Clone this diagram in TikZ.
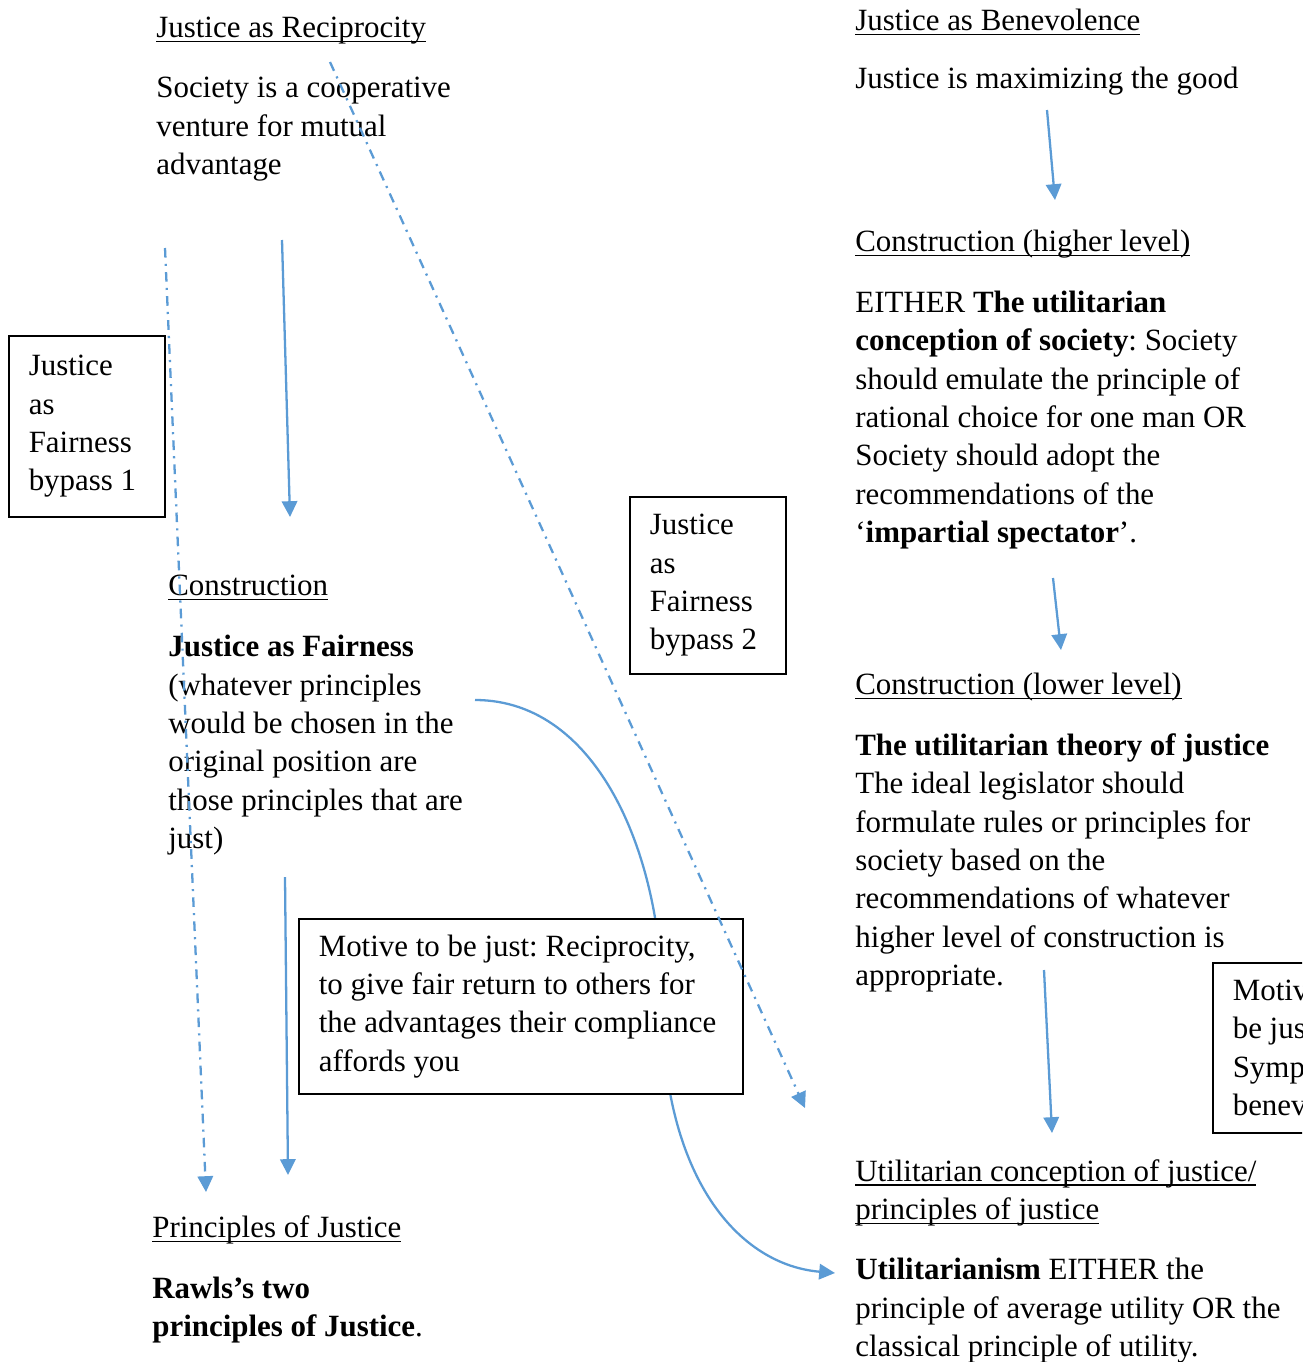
\documentclass[tikz,border=0pt]{standalone}
\usepackage{fontspec}
\setmainfont{Liberation Serif}
\usetikzlibrary{arrows.meta}

\definecolor{arrowblue}{RGB}{91,155,213}
\frenchspacing

% underline at a fixed depth
\newlength\ulwidth
\newcommand{\ulined}[1]{\settowidth{\ulwidth}{#1}\rlap{\rule[-2.6pt]{\ulwidth}{0.7pt}}#1}

\tikzset{
  flow/.style={draw=arrowblue, line width=1.3pt, -{Triangle[length=9pt,width=8.8pt]}},
  bypass/.style={flow, dash pattern=on 5.5pt off 3.5pt on 1.2pt off 3.5pt},
  para/.style={anchor=base west, align=left, inner sep=0pt, yshift=-0.8pt},
  sidebox/.style={draw, line width=0.9pt, fill=white, anchor=north west, align=flush left, inner xsep=0.4cm, inner ysep=0pt},
}

\begin{document}
\begin{tikzpicture}[x=0.02cm, y=-0.02cm, font=\fontsize{17.6}{21.8}\selectfont]
	\useasboundingbox (0,0) rectangle (1302,1362);
	\clip (0,0) rectangle (1302,1362);

	% curved arrow, runs behind the motive box
	\coordinate (curvestart) at (475,700);
	\coordinate (curvemid) at (662,1000);
	\coordinate (curveend) at (835,1273);
	\draw[flow] (curvestart) .. controls (600,700) and (662,860) .. (curvemid)
		.. controls (662,1180) and (740,1265) .. (curveend);

	% left column (multi-line texts sit on their last baseline)
	\node[para] (recip) at (156,36) {\ulined{Justice as Reciprocity}};
	\node[para] (venture) at (156,173) {Society is a cooperative\\venture for mutual\\advantage};
	\node[sidebox, text width=2.32cm, minimum height=3.62cm] (bypassone) at (8,335) {Justice\\as\\Fairness\\bypass 1};
	\node[para] (constr) at (168,594) {\ulined{Construction}};
	\node[para] (fairness) at (168,847) {\textbf{Justice as Fairness}\\(whatever principles\\would be chosen in the\\original position are\\those principles that are\\just)};
	\node[sidebox, text width=8.08cm, minimum height=3.5cm] (motive) at (298,918) {Motive to be just: Reciprocity,\\to give fair return to others for\\the advantages their compliance\\affords you};
	\node[para] (principles) at (152,1236) {\ulined{Principles of Justice}};
	\node[para] (rawls) at (152,1335) {\textbf{Rawls’s two}\\\textbf{principles of Justice}.};

	% middle
	\node[sidebox, text width=2.32cm, minimum height=3.54cm] (bypasstwo) at (629,496) {Justice\\as\\Fairness\\bypass 2};

	% right column
	\node[para] (benev) at (855,29) {\ulined{Justice as Benevolence}};
	\node[para] (maxgood) at (855,87) {Justice is maximizing the good};
	\node[para] (higher) at (855,250) {\ulined{Construction (higher level)}};
	\node[para] (conception) at (855,541) {EITHER \textbf{The utilitarian}\\\textbf{conception of society}: Society\\should emulate the principle of\\rational choice for one man OR\\Society should adopt the\\recommendations of the\\‘\textbf{impartial spectator}’.};
	\node[para] (lower) at (855,693) {\ulined{Construction (lower level)}};
	\node[para] (theory) at (855,984) {\textbf{The utilitarian theory of justice}\\The ideal legislator should\\formulate rules or principles for\\society based on the\\recommendations of whatever\\higher level of construction is\\appropriate.};
	\node[sidebox, text width=3cm, minimum height=3.4cm] (sympathy) at (1212,962) {Motive to\\be just:\\Sympathy,\\benevolence};
	\node[para] (utilconc) at (855,1218) {\ulined{Utilitarian conception of justice/}\\\ulined{principles of justice}};
	\node[para] (utilism) at (855,1355) {\textbf{Utilitarianism} EITHER the\\principle of average utility OR the\\classical principle of utility.};

	% arrow ends
	\coordinate (ventureout) at (282,240);
	\coordinate (constrin) at (290,517);
	\coordinate (fairnessout) at (285,877);
	\coordinate (principlesin) at (288,1175);
	\coordinate (skipleftout) at (165,248);
	\coordinate (skipleftin) at (206,1192);
	\coordinate (skiprightout) at (330,62);
	\coordinate (skiprightin) at (805,1108);
	\coordinate (maxgoodout) at (1047,110);
	\coordinate (higherin) at (1055,200);
	\coordinate (conceptionout) at (1053,578);
	\coordinate (lowerin) at (1061,650);
	\coordinate (theoryout) at (1044,970);
	\coordinate (utilconcin) at (1052,1133);

	\draw[flow] (ventureout) -- (constrin);
	\draw[flow] (fairnessout) -- (principlesin);
	\draw[bypass] (skipleftout) -- (skipleftin);
	\draw[bypass] (skiprightout) -- (skiprightin);
	\draw[flow] (maxgoodout) -- (higherin);
	\draw[flow] (conceptionout) -- (lowerin);
	\draw[flow] (theoryout) -- (utilconcin);
\end{tikzpicture}
\end{document}
